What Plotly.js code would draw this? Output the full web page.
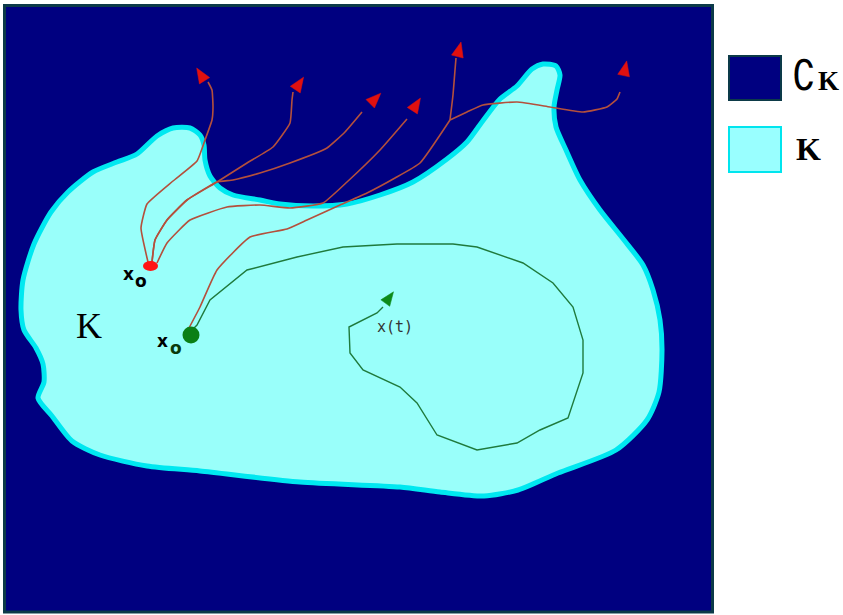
<!DOCTYPE html>
<html>
<head>
<meta charset="utf-8">
<script src="https://cdn.plot.ly/plotly-3.0.1.min.js"></script>
<style>html,body{margin:0;padding:0;background:#fff;}#chart{width:843px;height:615px;}</style>
</head>
<body>
<div id="chart"></div>
<script>
// ---- diagram data (pixel-space coordinates) ----
const frameX = [4.5, 712.5];
const frameY = [5.5, 612];

const blobX = [21,23,34,51,68,93,117,137,157,173,190,200,204,205,210,220,233,260,280,313,347,380,413,447,467,482,500,517,532,543,556,560,557,554,556,566,580,600,624,643,653,660,662,659,647,616,558,518,484,440,400,300,200,147,100,72,52,38,44,43,36,24,21];
const blobY = [310,280,244,212,192,172,162,154,136,128,128,135,145,160,176,188,195,200,204,206,204,195,182,159,142,122,99,86,69,64,66,75,90,107,127,150,180,210,240,265,290,320,350,392,420,450,473,490,496,492,487,482,471,466,455,441,416,398,382,364,348,330,310];

const pathAX = [148,141,147,173,197,205,212,213,212,208];
const pathAY = [262,228,204,181,161,140,120,107,90,82];
const pathBX = [152,155,167,187,217,247,273,290,292,293];
const pathBY = [262,240,220,200,182,163,147,123,100,92];
const pathCX = [152,155,167,187,217,233,260,290,327,345,362];
const pathCY = [262,240,220,200,182,180,173,163,148,132,112];
const pathDX = [157,167,190,227,260,290,323,347,380,407];
const pathDY = [263,243,220,207,205,208,203,182,150,119];
const pathEX = [189,200,217,250,287,307,340,367,395,420,450];
const pathEY = [328,307,270,237,229,220,205,193,178,163,120];
const pathEupX = [450,453,455,456];
const pathEupY = [120,95,70,58];
const pathErightX = [450,467,483,517,550,583,607,617,620];
const pathErightY = [120,112,105,102,107,112,107,99,92];
const greenPathX = [192,197,210,247,297,343,397,453,477,523,553,573,583,583,568,540,517,477,437,417,400,363,350,349,377,383];
const greenPathY = [330,325,300,270,257,247,244,244,247,263,283,307,340,373,418,430,443,450,435,403,387,370,353,327,313,307];

// arrowheads: a point behind the head (gives direction) and the head centre
const redArrowPrevX = [209,293,362,407,456,621];
const redArrowPrevY = [88,93,112,119,62,88];
const redArrowX = [201,299,375,416,459,625];
const redArrowY = [75,84,99,105,50,69];
const greenArrowPrevX = [381];
const greenArrowPrevY = [309];
const greenArrowX = [389];
const greenArrowY = [298];

const redDotX = [143,158];
const redDotY = [261,271];
const greenDotX = [191];
const greenDotY = [335];

const legendBoxX = [729,781];
const legendBoxY = [[56,100],[127,172]];

// ---- build traces ----
const traces = [];
traces.push({x: blobX, y: blobY, mode: 'lines', fill: 'toself', fillcolor: '#99fffa',
  line: {color: '#00e8f0', width: 5, shape: 'spline', smoothing: 0.7}, hoverinfo: 'skip'});

const pathColor = '#b4503c';
[[pathAX,pathAY],[pathBX,pathBY],[pathCX,pathCY],[pathDX,pathDY],[pathEX,pathEY],[pathEupX,pathEupY],[pathErightX,pathErightY]].forEach(p => {
  traces.push({x: p[0], y: p[1], mode: 'lines', line: {color: pathColor, width: 1.6, shape: 'spline', smoothing: 0.4}, hoverinfo: 'skip'});
});
traces.push({x: greenPathX, y: greenPathY, mode: 'lines', line: {color: '#1f7a3c', width: 1.4}, hoverinfo: 'skip'});

// arrowheads as small filled triangles oriented along (prev -> centre)
function arrows(px, py, cx, cy, color, len, half) {
  for (let i = 0; i < cx.length; i++) {
    const dx = cx[i] - px[i], dy = cy[i] - py[i];
    const m = Math.hypot(dx, dy) || 1;
    const ux = dx / m, uy = dy / m, nx = -uy, ny = ux;
    const tx = cx[i] + ux * len * 0.55, ty = cy[i] + uy * len * 0.55;
    const bx = cx[i] - ux * len * 0.45, by = cy[i] - uy * len * 0.45;
    traces.push({x: [tx, bx + nx * half, bx - nx * half, tx], y: [ty, by + ny * half, by - ny * half, ty],
      mode: 'lines', fill: 'toself', fillcolor: color, line: {color: color, width: 0.5}, hoverinfo: 'skip'});
  }
}
arrows(redArrowPrevX, redArrowPrevY, redArrowX, redArrowY, '#e0100f', 15, 6);
arrows(greenArrowPrevX, greenArrowPrevY, greenArrowX, greenArrowY, '#0c8a18', 14, 5.5);

traces.push({x: greenDotX, y: greenDotY, mode: 'markers', marker: {size: 17, color: '#0a7f16', line: {width: 0}}, hoverinfo: 'skip'});

const shapes = [
  {type: 'rect', layer: 'below', xref: 'x', yref: 'y', x0: frameX[0], x1: frameX[1], y0: frameY[0], y1: frameY[1],
   fillcolor: '#000080', line: {color: '#0c3a48', width: 3}},
  {type: 'circle', xref: 'x', yref: 'y', x0: redDotX[0], x1: redDotX[1], y0: redDotY[0], y1: redDotY[1],
   fillcolor: '#ff1414', line: {width: 0}},
  {type: 'rect', xref: 'x', yref: 'y', x0: legendBoxX[0], x1: legendBoxX[1], y0: legendBoxY[0][0], y1: legendBoxY[0][1],
   fillcolor: '#000080', line: {color: '#0c3a48', width: 2}},
  {type: 'rect', xref: 'x', yref: 'y', x0: legendBoxX[0], x1: legendBoxX[1], y0: legendBoxY[1][0], y1: legendBoxY[1][1],
   fillcolor: '#99ffff', line: {color: '#00e5ee', width: 2}}
];

function txt(t, x, y, size, family, color, extra) {
  return Object.assign({text: t, x: x, y: y, xref: 'x', yref: 'y', showarrow: false, xanchor: 'center', yanchor: 'middle',
    font: {size: size, family: family, color: color}}, extra || {});
}
const annotations = [
  txt('K', 89, 326, 36, 'Liberation Serif', '#000'),
  txt('<b>x</b>', 128, 274, 17, 'DejaVu Sans', '#000'),
  txt('<b>o</b>', 141, 281, 17, 'DejaVu Sans', '#000'),
  txt('<b>x</b>', 162, 341, 17, 'DejaVu Sans', '#000'),
  txt('<b>o</b>', 176, 348, 17, 'DejaVu Sans', '#0a3a0a'),
  txt('x(t)', 395, 327, 15, 'DejaVu Sans Mono', '#333'),
  txt('∁', 804, 75, 42, 'DejaVu Sans Condensed', '#000'),
  txt('<b>K</b>', 828, 81, 27, 'Liberation Serif', '#000'),
  txt('<b>K</b>', 808, 149, 32, 'Liberation Serif', '#000')
];

const layout = {
  width: 843, height: 615,
  margin: {l: 0, r: 0, t: 0, b: 0, pad: 0},
  paper_bgcolor: '#ffffff', plot_bgcolor: '#ffffff',
  showlegend: false,
  xaxis: {range: [0, 843], visible: false, fixedrange: true},
  yaxis: {range: [615, 0], visible: false, fixedrange: true},
  shapes: shapes,
  annotations: annotations
};
Plotly.newPlot('chart', traces, layout, {displayModeBar: false, staticPlot: true});
</script>
</body>
</html>
